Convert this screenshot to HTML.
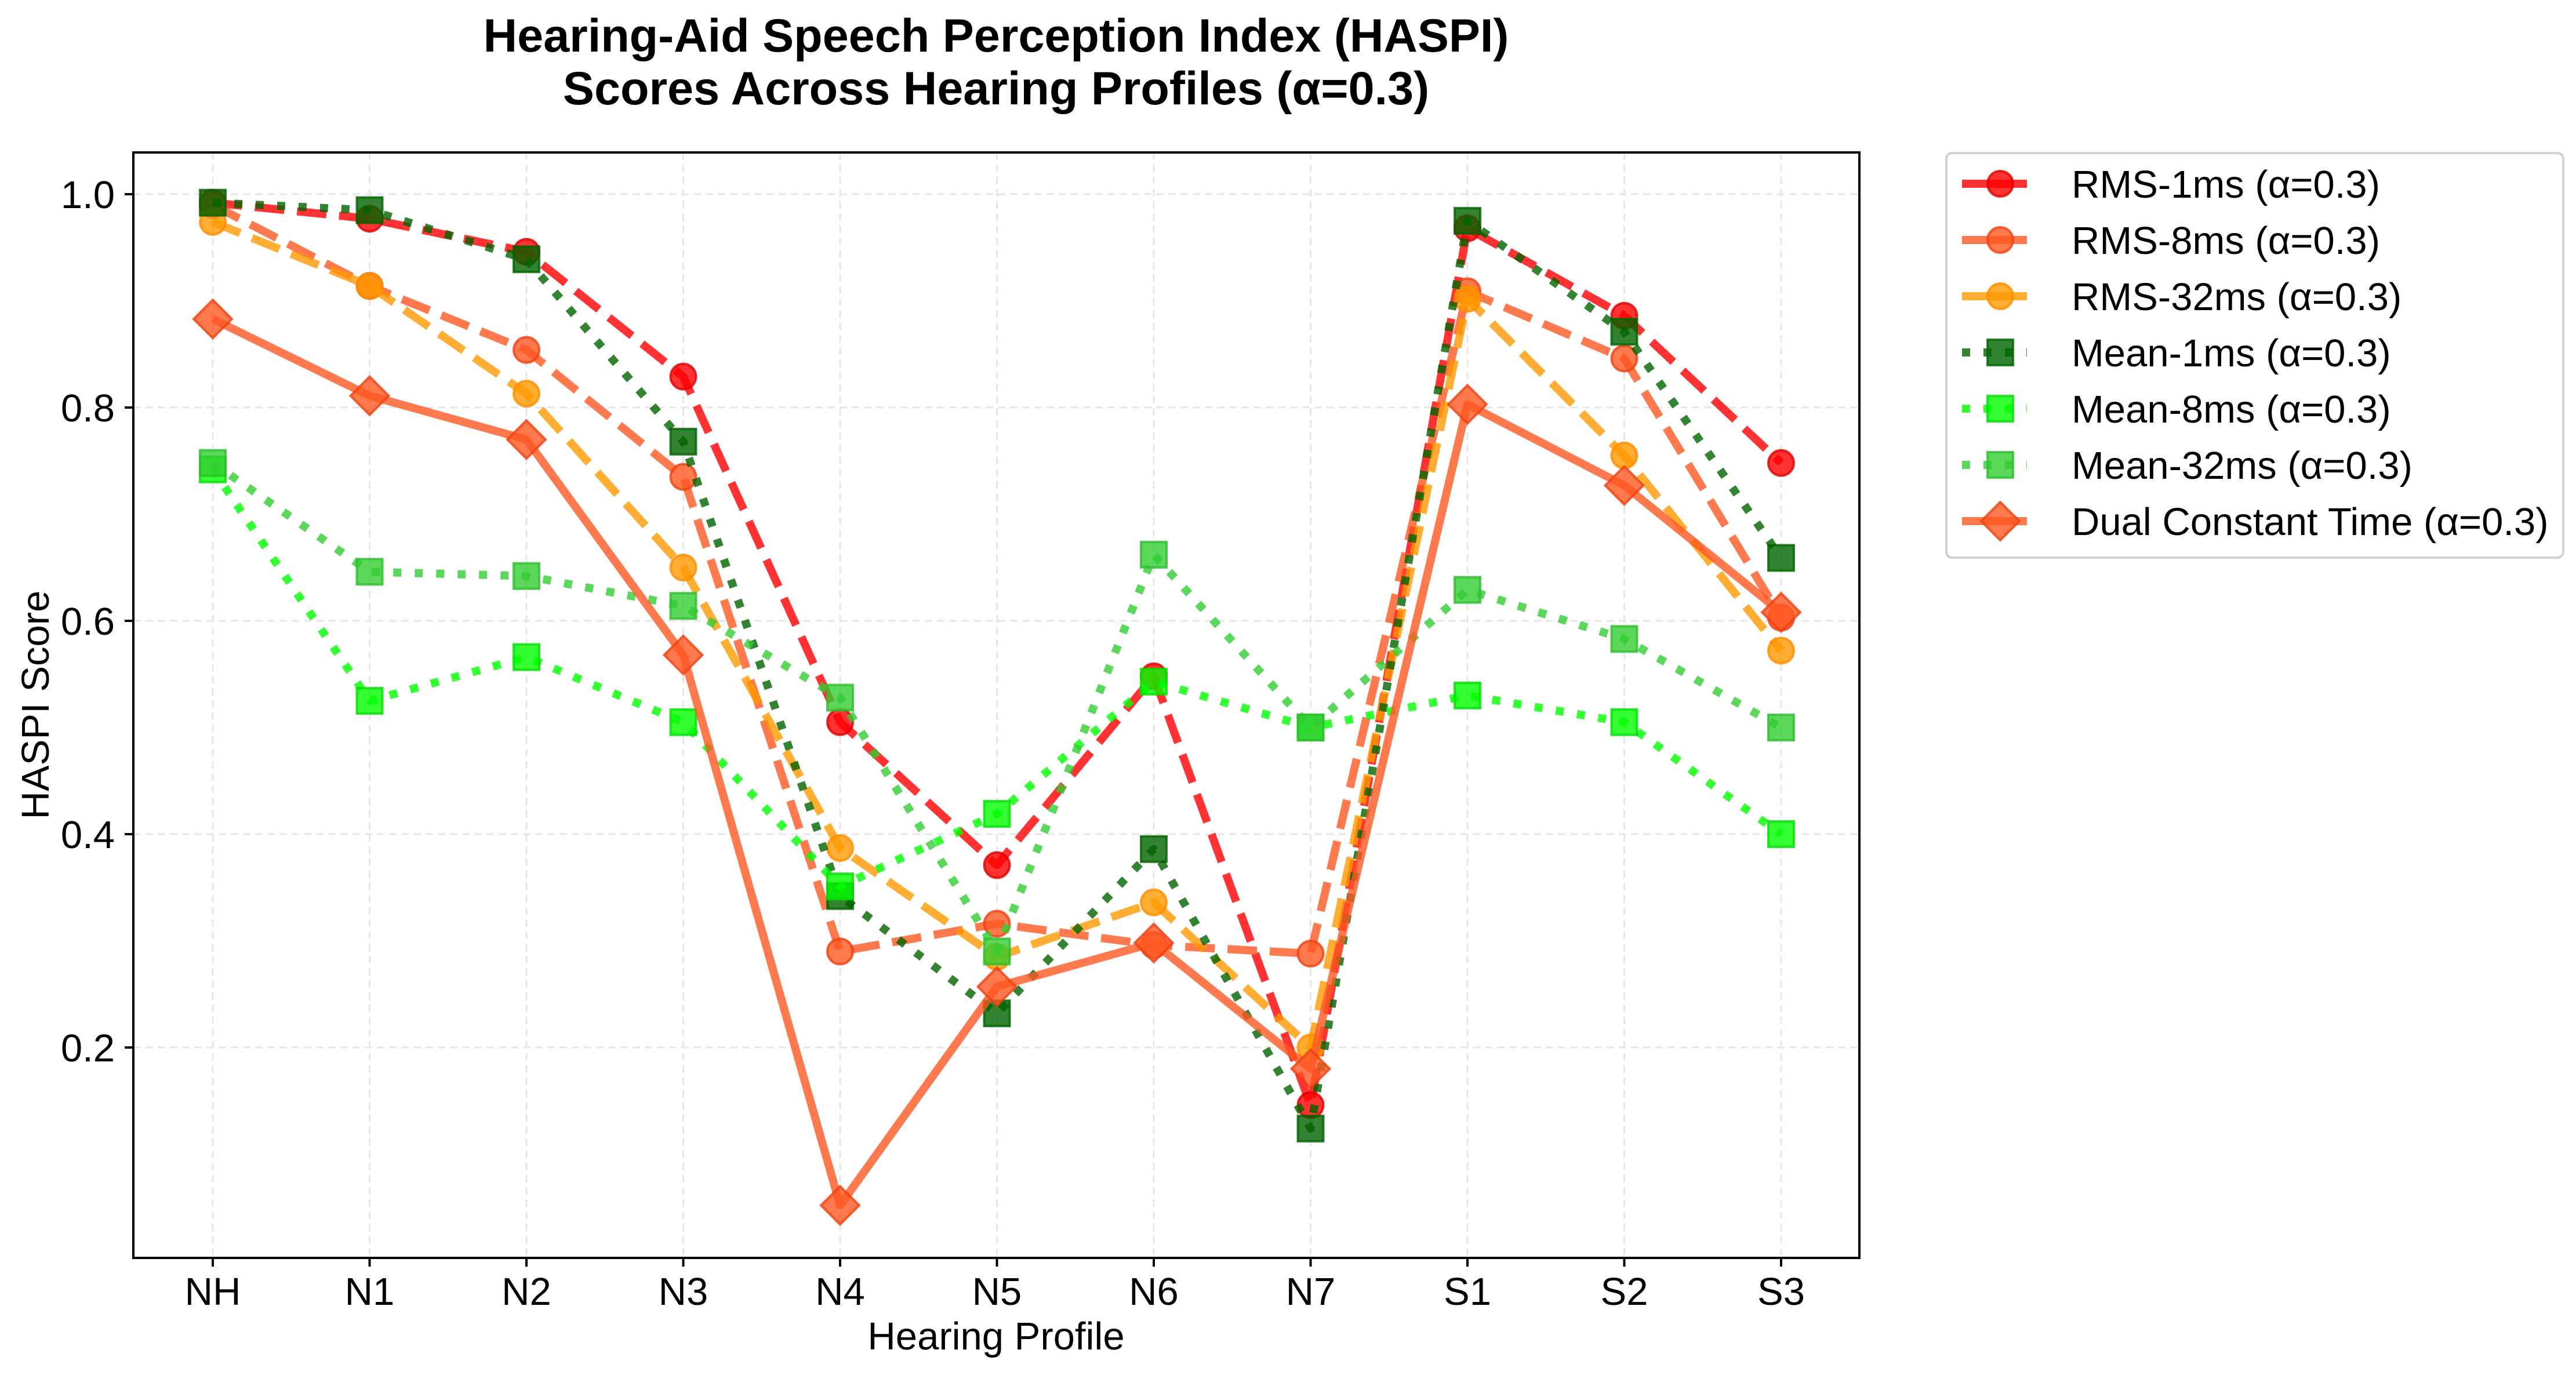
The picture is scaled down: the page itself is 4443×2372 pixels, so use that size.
<!DOCTYPE html>
<html><head><meta charset="utf-8"><style>
html,body{margin:0;padding:0;background:#fff}
svg{display:block;font-family:"Liberation Sans",Arial,sans-serif}
</style></head><body>
<svg id="chart" width="4443" height="2372" viewBox="0 0 4443 2372" xmlns="http://www.w3.org/2000/svg">
<rect width="4443" height="2372" fill="#fff"/>
<g id="grid"></g>
<g id="series"></g>
<rect x="230" y="263" width="2977" height="1907" fill="none" stroke="#000" stroke-width="4"/>
<g id="axes"></g>
<text x="1718" y="89" text-anchor="middle" font-size="81" font-weight="bold">Hearing-Aid Speech Perception Index (HASPI)</text>
<text x="1718" y="180" text-anchor="middle" font-size="81" font-weight="bold">Scores Across Hearing Profiles (α=0.3)</text>
<text x="1718" y="2328" text-anchor="middle" font-size="67">Hearing Profile</text>
<text x="0" y="0" transform="translate(84,1216) rotate(-90)" text-anchor="middle" font-size="67">HASPI Score</text>
<g id="legend"></g>
</svg>
<script>
const categories = ["NH","N1","N2","N3","N4","N5","N6","N7","S1","S2","S3"];
const yTicks = [0.2,0.4,0.6,0.8,1.0];
const yTickLabels = ["0.2","0.4","0.6","0.8","1.0"];
const seriesNames = ["RMS-1ms (α=0.3)","RMS-8ms (α=0.3)","RMS-32ms (α=0.3)","Mean-1ms (α=0.3)","Mean-8ms (α=0.3)","Mean-32ms (α=0.3)","Dual Constant Time (α=0.3)"];
const rms1 = [0.992,0.977,0.946,0.829,0.505,0.371,0.548,0.146,0.968,0.886,0.748];
const rms8 = [0.990,0.914,0.854,0.735,0.290,0.316,0.296,0.288,0.909,0.846,0.603];
const rms32 = [0.974,0.914,0.813,0.650,0.387,0.285,0.336,0.200,0.902,0.755,0.572];
const mean1 = [0.992,0.985,0.939,0.768,0.342,0.232,0.386,0.124,0.975,0.871,0.659];
const mean8 = [0.742,0.525,0.566,0.505,0.351,0.419,0.543,0.500,0.530,0.505,0.400];
const mean32 = [0.748,0.646,0.642,0.614,0.528,0.290,0.662,0.500,0.629,0.583,0.500];
const dual = [0.883,0.811,0.770,0.568,0.052,0.257,0.298,0.180,0.803,0.727,0.608];

const NS="http://www.w3.org/2000/svg";
function xPos(i){return 367 + i*(3072-367)/(categories.length-1);}
function yPos(v){return 335 + (1-v)*1840;}
function mk(tag,attrs,parent){const e=document.createElementNS(NS,tag);for(const k in attrs)e.setAttribute(k,attrs[k]);parent.appendChild(e);return e;}

const styles=[
 {data:rms1,color:"#ff0000",edge:"#e00000",dash:"51,22",marker:"circle"},
 {data:rms8,color:"#ff5722",edge:"#f04010",dash:"51,22",marker:"circle"},
 {data:rms32,color:"#ff9800",edge:"#ff8c00",dash:"51,22",marker:"circle"},
 {data:mean1,color:"#006400",edge:"#006400",dash:"14,23",marker:"square"},
 {data:mean8,color:"#00ff00",edge:"#00e000",dash:"14,23",marker:"square"},
 {data:mean32,color:"#32cd32",edge:"#2cbf2c",dash:"14,23",marker:"square"},
 {data:dual,color:"#ff5722",edge:"#f04010",dash:"",marker:"diamond"}
];
const keys=["rms-1ms","rms-8ms","rms-32ms","mean-1ms","mean-8ms","mean-32ms","dual-constant-time"];

const grid=document.getElementById('grid');
categories.forEach((c,i)=>{
  const l=mk('line',{x1:xPos(i),x2:xPos(i),y1:263,y2:2170,stroke:"#e6e6e6","stroke-width":3,"stroke-dasharray":"13,8"},grid);
  
  
});
yTicks.forEach(v=>{
  const l=mk('line',{x1:230,x2:3207,y1:yPos(v),y2:yPos(v),stroke:"#e6e6e6","stroke-width":3,"stroke-dasharray":"13,8"},grid);
  
  
});

const axes=document.getElementById('axes');
categories.forEach((c,i)=>{
  const t=mk('line',{x1:xPos(i),x2:xPos(i),y1:2170,y2:2185,stroke:"#000","stroke-width":4},axes);
  
  
  const tx=mk('text',{x:xPos(i),y:2251,"text-anchor":"middle","font-size":67},axes);
  tx.textContent=c;
  
  
});
yTicks.forEach((v,i)=>{
  const t=mk('line',{x1:215,x2:230,y1:yPos(v),y2:yPos(v),stroke:"#000","stroke-width":4},axes);
  
  
  const tx=mk('text',{x:198,y:yPos(v)+24,"text-anchor":"end","font-size":67},axes);
  tx.textContent=yTickLabels[i];
  
  
});

function drawMarker(type,x,y,s,parent,scale){
  scale=scale||1;
  let e;
  if(type==="circle") e=mk('circle',{cx:x,cy:y,r:22*scale},parent);
  else if(type==="square") e=mk('rect',{x:x-22*scale,y:y-22*scale,width:44*scale,height:44*scale},parent);
  else {const d=33*scale;e=mk('polygon',{points:`${x},${y-d} ${x+d},${y} ${x},${y+d} ${x-d},${y}`},parent);}
  e.setAttribute('fill',s.color);e.setAttribute('fill-opacity',0.8);
  e.setAttribute('stroke',s.edge);e.setAttribute('stroke-width',4);e.setAttribute('stroke-opacity',0.8);
  return e;
}

const sg=document.getElementById('series');
styles.forEach((s,k)=>{
  const g=mk('g',{},sg);
  
  
  const pts=s.data.map((v,i)=>xPos(i)+","+yPos(v)).join(" ");
  const pl=mk('polyline',{points:pts,fill:"none",stroke:s.color,"stroke-opacity":0.8,"stroke-width":14,"stroke-linejoin":"round"},g);
  if(s.dash)pl.setAttribute('stroke-dasharray',s.dash);
  
  
  s.data.forEach((v,i)=>{
    const m=drawMarker(s.marker,xPos(i),yPos(v),s,g);
    
    
  });
});

const lg=document.getElementById('legend');
const box=mk('rect',{x:3357,y:264,width:1064,height:698,rx:10,fill:"#fff",stroke:"#d0d0d0","stroke-width":4},lg);


styles.forEach((s,k)=>{
  const cy=317+97*k;
  const g=mk('g',{},lg);
  
  
  const ln=mk('line',{x1:3384,x2:3496,y1:cy,y2:cy,stroke:s.color,"stroke-opacity":0.8,"stroke-width":14},g);
  if(s.dash)ln.setAttribute('stroke-dasharray',s.dash==="51,22"?"112,0":"14,23");
  drawMarker(s.marker,3450,cy,s,g);
  const t=mk('text',{x:3573,y:cy+24,"font-size":67},g);
  t.textContent=seriesNames[k];
});
</script>
</body></html>
